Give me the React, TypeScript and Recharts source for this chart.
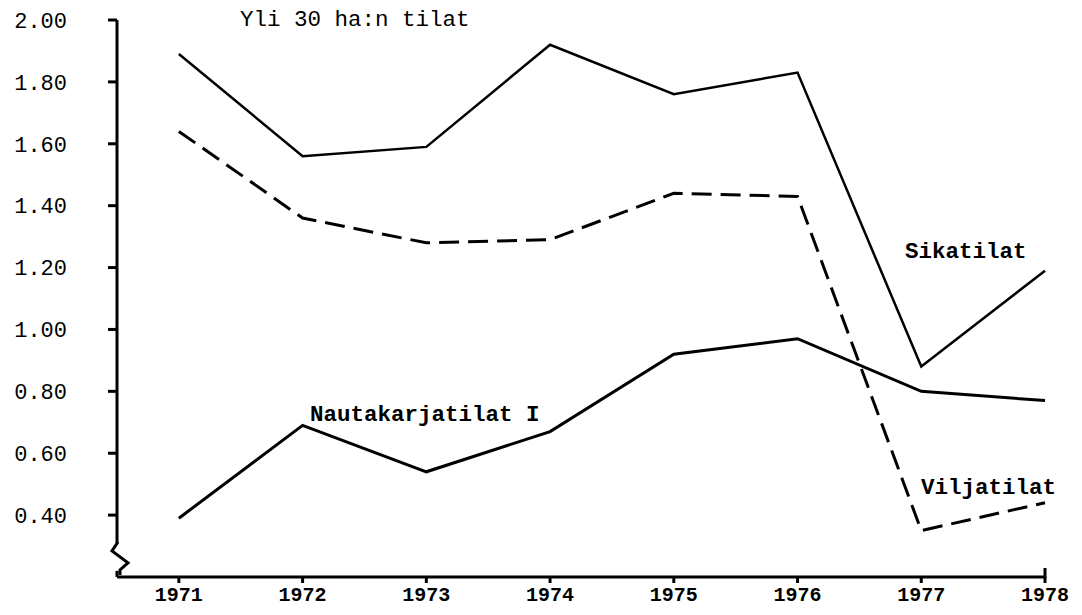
import { LineChart, Line, XAxis, YAxis, ReferenceDot } from "recharts"

const years = [1971, 1972, 1973, 1974, 1975, 1976, 1977, 1978]
const sikatilat = [1.89, 1.56, 1.59, 1.92, 1.76, 1.83, 0.88, 1.19]
const viljatilat = [1.64, 1.36, 1.28, 1.29, 1.44, 1.43, 0.35, 0.44]
const nautakarjatilat = [0.39, 0.69, 0.54, 0.67, 0.92, 0.97, 0.8, 0.77]
const yTicks = [0.4, 0.6, 0.8, 1.0, 1.2, 1.4, 1.6, 1.8, 2.0]

const data = years.map((year, i) => ({
  year,
  sika: sikatilat[i],
  vilja: viljatilat[i],
  nauta: nautakarjatilat[i],
}))

const font = "'Liberation Mono', 'DejaVu Sans Mono', monospace"

// axis break mark on the y axis
const BreakMark = (props: any) => {
  const { cx, cy } = props
  return (
    <g>
      <rect x={cx - 12} y={cy - 14} width={24} height={28} fill="#fff" />
      <path
        d={`M${cx + 1},${cy - 15} L${cx - 5},${cy - 6} L${cx + 11},${cy + 6} L${cx + 3},${cy + 13} L${cx + 3},${cy + 18}`}
        fill="none"
        stroke="#000"
        strokeWidth={3}
      />
    </g>
  )
}

const EndTick = (props: any) => {
  const { cx, cy } = props
  return <line x1={cx} y1={cy + 1} x2={cx} y2={cy - 9} stroke="#000" strokeWidth={3} />
}

const labels = [
  { text: "Yli 30 ha:n tilat", x: 240, y: 20, bold: false },
  { text: "Sikatilat", x: 905, y: 252, bold: true },
  { text: "Nautakarjatilat I", x: 310, y: 415, bold: true },
  { text: "Viljatilat", x: 921, y: 488, bold: true },
]

const App = () => {
  return (
    <div style={{ position: "absolute", left: 0, top: 0, width: 1082, height: 615, background: "#fff" }}>
      <LineChart
        width={1082}
        height={615}
        data={data}
        margin={{ top: 20, right: 37, bottom: 0, left: 0 }}
      >
        <XAxis
          dataKey="year"
          type="number"
          domain={[1970.5, 1978]}
          ticks={years}
          height={38}
          stroke="#000"
          strokeWidth={3}
          tickSize={6}
          tickMargin={4}
          tick={{ fill: "#000", fontFamily: font, fontSize: 20, fontWeight: "bold" }}
        />
        <YAxis
          type="number"
          domain={[0.2, 2.0]}
          ticks={yTicks}
          tickFormatter={(v: number) => v.toFixed(2)}
          width={117}
          stroke="#000"
          strokeWidth={3}
          tickSize={9}
          tickMargin={41}
          tick={{ fill: "#000", fontFamily: font, fontSize: 22 }}
        />
        <Line
          dataKey="sika"
          stroke="#000"
          strokeWidth={2.5}
          dot={false}
          isAnimationActive={false}
        />
        <Line
          dataKey="vilja"
          stroke="#000"
          strokeWidth={3}
          strokeDasharray="20 9"
          dot={false}
          isAnimationActive={false}
        />
        <Line
          dataKey="nauta"
          stroke="#000"
          strokeWidth={3}
          dot={false}
          isAnimationActive={false}
        />
        <ReferenceDot x={1970.5} y={0.265} ifOverflow="visible" shape={BreakMark} />
        <ReferenceDot x={1978} y={0.2} ifOverflow="visible" shape={EndTick} />
      </LineChart>
      <svg
        width={1082}
        height={615}
        style={{ position: "absolute", left: 0, top: 0, pointerEvents: "none" }}
      >
        {labels.map((l) => (
          <text
            key={l.text}
            x={l.x}
            y={l.y}
            dominantBaseline="central"
            fontFamily={font}
            fontSize={22.5}
            fontWeight={l.bold ? "bold" : "normal"}
            fill="#000"
          >
            {l.text}
          </text>
        ))}
      </svg>
    </div>
  )
}

export default App
